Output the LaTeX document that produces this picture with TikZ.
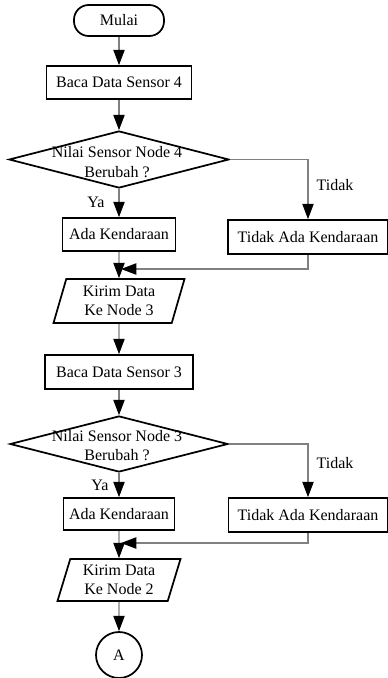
\documentclass[tikz,border=0pt]{standalone}
\usepackage{fontspec}
\setmainfont{Liberation Serif}
\usetikzlibrary{shapes.geometric,arrows.meta}
\definecolor{flowgray}{RGB}{128,128,128}

\begin{document}
\begin{tikzpicture}[x=0.75pt,y=-0.75pt,
  every node/.style={font=\fontsize{12}{14.5}\selectfont},
  terminal/.style={draw,line width=1.3pt,rounded corners=11pt,minimum width=67.5pt,minimum height=23.25pt,inner sep=0pt},
  process/.style={draw,line width=1.3pt,rectangle,inner sep=0pt},
  decision/.style={draw,line width=1.3pt,diamond,inner sep=0pt},
  iobox/.style={draw,line width=1.3pt,trapezium,trapezium left angle=67,trapezium right angle=113,trapezium stretches body,inner sep=0pt,align=center},
  connector/.style={draw,line width=1.3pt,circle,minimum size=34.5pt,inner sep=0pt},
  flow/.style={flowgray,line width=0.8pt,-{Triangle[length=11.5pt,width=8.5pt,color=black]}}]
\useasboundingbox (0,0) rectangle (388,678);

% Start and first sensor
\node[terminal] (mulai) at (119,20.5) {Mulai};
\node[process,minimum width=108.75pt,minimum height=24.75pt] (baca4) at (119,82.5) {Baca Data Sensor 4};
\node[decision,minimum width=165pt,minimum height=42.75pt] (cek4) at (119,159.5) {};
\node[align=center] (teks4) at (117,162) {Nilai Sensor Node 4\\Berubah ?};

% Branches of node 4
\node[process,minimum width=84.75pt,minimum height=24.75pt] (ada4) at (119,234.5) {Ada Kendaraan};
\node[process,minimum width=120pt,minimum height=25.5pt] (tidak4) at (308,237) {Tidak Ada Kendaraan};
\node (ya4) at (96,202) {Ya};
\node (no4) at (335,185) {Tidak};
\coordinate (gabung4) at (121,269);
\node[iobox,minimum width=98.25pt,minimum height=33pt] (kirim3) at (119,301) {Kirim Data\\Ke Node 3};

% Second sensor
\node[process,minimum width=111pt,minimum height=25.5pt] (baca3) at (119,372) {Baca Data Sensor 3};
\node[decision,minimum width=163.5pt,minimum height=42pt] (cek3) at (119,444) {};
\node[align=center] (teks3) at (117,445.5) {Nilai Sensor Node 3\\Berubah ?};

% Branches of node 3
\node[process,minimum width=83.25pt,minimum height=24pt] (ada3) at (119,514) {Ada Kendaraan};
\node[process,minimum width=119.25pt,minimum height=25.5pt] (tidak3) at (308,515) {Tidak Ada Kendaraan};
\node (ya3) at (100,485) {Ya};
\node (no3) at (335,463) {Tidak};
\coordinate (gabung3) at (121,543);
\node[iobox,minimum width=92.25pt,minimum height=31.5pt] (kirim2) at (119,580) {Kirim Data\\Ke Node 2};

% Off-page connector
\node[connector] (sambung) at (119,655) {A};

% Arrows
\draw[flow] (mulai) -- (baca4);
\draw[flow] (baca4) -- (cek4);
\draw[flow] (cek4) -- (ada4);
\draw[flow] (cek4.east) -| (tidak4.north);
\draw[flow] (ada4) -- (kirim3);
\draw[flow] (tidak4.south) |- (gabung4);
\draw[flow] (kirim3) -- (baca3);
\draw[flow] (baca3) -- (cek3);
\draw[flow] (cek3) -- (ada3);
\draw[flow] (cek3.east) -| (tidak3.north);
\draw[flow] (ada3) -- (kirim2);
\draw[flow] (tidak3.south) |- (gabung3);
\draw[flow] (kirim2) -- (sambung);
\end{tikzpicture}
\end{document}
